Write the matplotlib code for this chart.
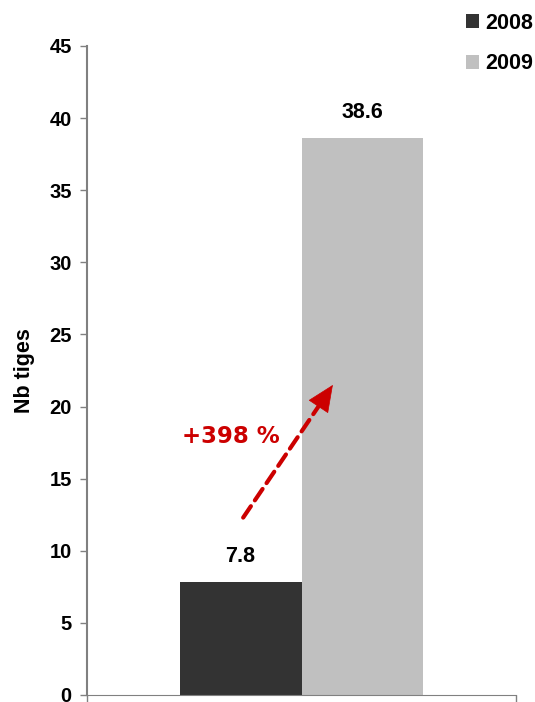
import matplotlib
matplotlib.use("Agg")
import matplotlib.pyplot as plt
from matplotlib.patches import Patch

plt.rcParams['font.family'] = ['Liberation Sans', 'DejaVu Sans']

# Data
years = ["2008", "2009"]
values = [7.8, 38.6]
colors = ["#333333", "#C0C0C0"]
change_label = "+398 %"

fig = plt.figure(figsize=(5.35, 7.02), dpi=100)
ax = fig.add_axes([0.1626, 0.01, 0.802, 0.9245])

width = 0.284
xpos = [-width / 2, width / 2]
ax.bar(xpos, values, width, color=colors, edgecolor="none")

for x, v in zip(xpos, values):
    ax.text(x, v + 1.8, f"{v:.1f}", ha="center", va="center",
            fontsize=15.5, fontweight="bold")

ax.set_xlim(-0.5, 0.5)
ax.set_ylim(0, 45)
ax.set_yticks(range(0, 46, 5))
ax.set_xticks([-0.5, 0.5])
ax.set_xticklabels([])
for lbl in ax.get_yticklabels():
    lbl.set_fontweight("bold")
ax.tick_params(axis="y", labelsize=14.5, length=5, width=1, color="#808080", pad=6)
ax.tick_params(axis="x", length=6, width=1, color="#808080")

ax.spines["top"].set_visible(False)
ax.spines["right"].set_visible(False)
ax.spines["left"].set_color("#808080")
ax.spines["bottom"].set_color("#808080")
ax.spines["left"].set_linewidth(1.5)
ax.set_ylabel("Nb tiges", fontsize=15.5, fontweight="bold", labelpad=10)

# growth arrow: dashed shaft + solid head
ax.annotate("", xy=(0.041, 20.07), xytext=(-0.136, 12.3),
            arrowprops=dict(arrowstyle="-", color="#CC0000", lw=3,
                            linestyle=(0, (3.3, 1.7)),
                            shrinkA=0, shrinkB=0))
ax.annotate("", xy=(0.073, 21.5), xytext=(0.041, 20.07),
            arrowprops=dict(arrowstyle="-|>,head_length=1.8,head_width=0.8",
                            color="#CC0000", lw=0.5, mutation_scale=10,
                            shrinkA=0, shrinkB=0))
ax.text(-0.164, 17.9, change_label, color="#CC0000", fontsize=16.5,
        fontweight="bold", family="DejaVu Sans", ha="center", va="center")

handles = [Patch(facecolor=c, edgecolor="none") for c in colors]
fig.legend(handles, years, loc="upper right", bbox_to_anchor=(0.997, 0.982),
           frameon=False, handlelength=0.6, handleheight=0.6,
           handletextpad=0.3, labelspacing=0.92, borderpad=0, borderaxespad=0,
           prop={"size": 15.5, "weight": "bold"})

fig.savefig("out.png", dpi=100)
